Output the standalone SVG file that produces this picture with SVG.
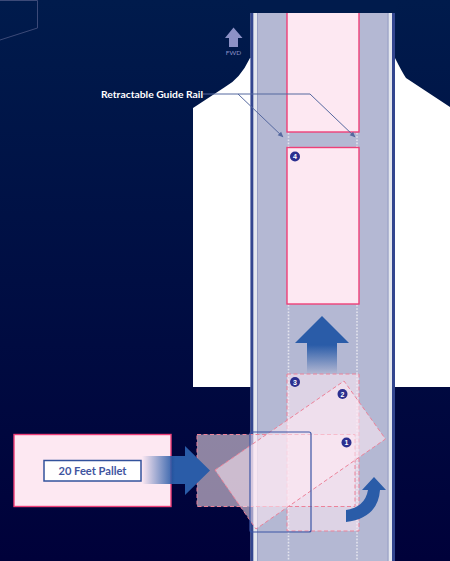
<svg xmlns="http://www.w3.org/2000/svg" width="450" height="561" viewBox="0 0 450 561">
<style>
.pallet{fill:#fde8f2;stroke:#ee3f78;stroke-width:1.4}
.ghost{fill:#fde8f2;fill-opacity:.56;stroke:#ec8299;stroke-width:1;stroke-dasharray:4 2.5}
.dots{stroke:#e4e4ee;stroke-width:1.6;stroke-dasharray:1.6 1.6;fill:none}
.badge{fill:#2b2f8f}
.num{font:700 7px "Liberation Sans",sans-serif;fill:#fff;text-anchor:middle}
.lead{fill:none;stroke:#55689f;stroke-width:1}
.t{font-family:Lato,"Liberation Sans",sans-serif}
</style>
<defs>
<linearGradient id="fadeBg" x1="0" y1="0" x2="0" y2="1"><stop offset="0" stop-color="#001b4c"/><stop offset="1" stop-color="#00013a"/></linearGradient>
<linearGradient id="fadeR" gradientUnits="userSpaceOnUse" x1="142" y1="0" x2="175" y2="0"><stop offset="0" stop-color="#2a5ca8" stop-opacity="0"/><stop offset="1" stop-color="#2a5ca8"/></linearGradient>
<linearGradient id="fadeU" gradientUnits="userSpaceOnUse" x1="0" y1="374" x2="0" y2="345"><stop offset="0" stop-color="#2a5ca8" stop-opacity="0"/><stop offset="1" stop-color="#2a5ca8"/></linearGradient>
<marker id="ah" markerWidth="6" markerHeight="6" refX="5" refY="3" orient="auto"><path d="M0 0.5L5.5 3L0 5.500Z" fill="#55689f"/></marker>
</defs>
<rect id="background" width="450" height="561" fill="url(#fadeBg)"/>
<path id="corner" d="M0 0.5H37.5V28L0 40" fill="none" stroke="#3c4a78" stroke-width="1"/>
<path id="aircraft" d="M193 108L225 87Q240 79 250 58H395Q402 72 406 78L450 107V387H193Z" fill="#fff"/>
<g id="track">
<rect x="250.500" y="13" width="144" height="548" fill="#b4b8d3"/>
<rect x="250.500" y="13" width="3" height="548" fill="#33468f"/>
<rect x="253.500" y="13" width="3.500" height="548" fill="#e4e7ee"/>
<rect x="388.500" y="13" width="3.500" height="548" fill="#e4e7ee"/>
<rect x="392" y="13" width="3" height="548" fill="#33468f"/>
<path d="M257.500 13V561M388 13V561" stroke="#979fc4" stroke-width="1" fill="none"/>
</g>
<g id="guide-rails">
<path class="dots" d="M288.500 133V147M357 133V147M288.500 305V561M357 305V561"/>
</g>
<g id="pallet-top"><rect class="pallet" x="287" y="10" width="72" height="122"/></g>
<rect x="250" y="0" width="146" height="13" fill="#001b4c"/>
<g id="pallet-4"><rect class="pallet" x="287" y="147.500" width="72" height="156.500"/>
<circle class="badge" cx="295" cy="156.500" r="5"/><text class="num" x="295" y="159">4</text></g>
<g id="pallet-20ft"><rect class="pallet" x="14" y="434.500" width="157" height="72"/></g>
<g id="label-20ft"><rect x="44" y="460.500" width="97" height="20.500" fill="#fff" stroke="#33529c" stroke-width="1.500"/>
<text class="t" x="92.500" y="475" font-size="11" font-weight="700" fill="#3f55a0" text-anchor="middle" textLength="68" lengthAdjust="spacingAndGlyphs">20 Feet Pallet</text></g>
<g id="arrow-up"><path d="M307 374V343H295L322 316L349 343H337V374Z" fill="url(#fadeU)"/></g>
<g id="pallet-3"><rect class="ghost" x="287" y="374" width="72" height="157"/>
<circle class="badge" cx="295" cy="382" r="5"/><text class="num" x="295" y="384.500">3</text></g>
<g id="pallet-1"><rect class="ghost" x="197" y="434.500" width="158" height="72"/></g>
<g id="pallet-2"><path class="ghost" d="M215 470L344 381L385.500 439L256 529Z"/>
<circle class="badge" cx="342.500" cy="394" r="5"/><text class="num" x="342.500" y="396.500">2</text></g>
<g id="badge-1"><circle class="badge" cx="346.500" cy="442.500" r="5"/><text class="num" x="346.500" y="445">1</text></g>
<g id="arrow-in"><path d="M142 456H185V446L210 470.500L185 495V484H142Z" fill="url(#fadeR)"/></g>
<g id="arrow-turn"><path d="M346 510Q365 507 368 490H362L374 477L386 490H380Q378 518 346 522Z" fill="#2a5ca8"/></g>
<g id="frame"><rect x="250" y="432" width="61" height="100" rx="2" fill="none" stroke="#3b55a5" stroke-width="1.200"/></g>
<g id="fwd"><path d="M229 47V38H225L233.500 27.500L242.500 38H238V47Z" fill="#8c91c6"/>
<text class="t" x="233.500" y="54.500" font-size="6.500" fill="#8c91c6" text-anchor="middle">FWD</text></g>
<g id="connectors">
<path class="lead" d="M203 94H310L355 137" marker-end="url(#ah)"/>
<path class="lead" d="M238 94L283 137" marker-end="url(#ah)"/>
</g>
<g id="label-rail"><text class="t" x="101" y="97.500" font-size="10" font-weight="700" fill="#fff" textLength="102" lengthAdjust="spacingAndGlyphs">Retractable Guide Rail</text></g>
</svg>
